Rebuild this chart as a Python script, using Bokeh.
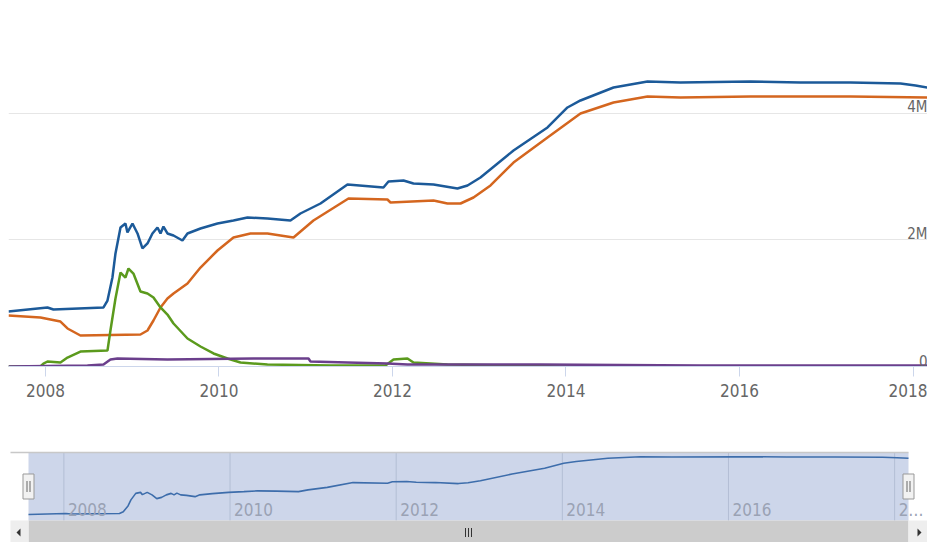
from bokeh.plotting import figure
from bokeh.layouts import column
from bokeh.models import Range1d, FixedTicker, Grid
from bokeh.core.properties import value
from bokeh.embed import file_html
from bokeh.resources import INLINE

# ---------------- data (values in millions, "M") ----------------
assets_t = [2007.574, 2008.023, 2008.092, 2008.669, 2008.715, 2008.772, 2008.807, 2008.865,
            2008.922, 2008.945, 2009.003, 2009.061, 2009.118, 2009.176, 2009.233, 2009.291,
            2009.326, 2009.360, 2009.406, 2009.476, 2009.579, 2009.637, 2009.787, 2009.983,
            2010.167, 2010.329, 2010.559, 2010.824, 2010.939, 2011.170, 2011.481, 2011.896,
            2011.954, 2012.127, 2012.242, 2012.473, 2012.749, 2012.865, 2013.014, 2013.395,
            2013.787, 2014.017, 2014.167, 2014.548, 2014.940, 2015.320, 2016.127, 2016.703,
            2017.280, 2017.856, 2018.029, 2018.167]
assets_v = [0.870, 0.933, 0.901, 0.933, 1.043, 1.407, 1.787, 2.198,
            2.261, 2.119, 2.261, 2.103, 1.866, 1.945, 2.103, 2.198,
            2.103, 2.213, 2.103, 2.071, 1.992, 2.103, 2.182, 2.261,
            2.308, 2.356, 2.340, 2.308, 2.419, 2.577, 2.877, 2.830,
            2.925, 2.941, 2.893, 2.877, 2.814, 2.862, 2.988, 3.415,
            3.779, 4.095, 4.206, 4.411, 4.506, 4.490, 4.506, 4.490,
            4.490, 4.474, 4.443, 4.411]

securities_t = [2007.574, 2007.942, 2008.173, 2008.254, 2008.403, 2009.095, 2009.176, 2009.245,
                2009.326, 2009.406, 2009.476, 2009.637, 2009.787, 2009.983, 2010.167, 2010.363,
                2010.559, 2010.859, 2011.089, 2011.493, 2011.942, 2011.977, 2012.473, 2012.634,
                2012.784, 2012.934, 2013.130, 2013.395, 2013.787, 2014.167, 2014.548, 2014.940,
                2015.320, 2016.127, 2017.280, 2018.167]
securities_v = [0.806, 0.775, 0.711, 0.601, 0.490, 0.506, 0.569, 0.727,
                0.933, 1.075, 1.154, 1.312, 1.565, 1.834, 2.040, 2.103,
                2.103, 2.040, 2.308, 2.656, 2.640, 2.593, 2.625, 2.577,
                2.577, 2.672, 2.862, 3.225, 3.621, 4.000, 4.174, 4.269,
                4.253, 4.269, 4.269, 4.253]

lending_t = [2007.574, 2007.942, 2007.977, 2008.023, 2008.173, 2008.254, 2008.403, 2008.715,
             2008.749, 2008.807, 2008.865, 2008.922, 2008.957, 2009.014, 2009.095, 2009.176,
             2009.245, 2009.326, 2009.406, 2009.476, 2009.637, 2009.787, 2009.937, 2010.098,
             2010.248, 2010.559, 2011.285, 2011.919, 2012.012, 2012.173, 2012.242, 2012.634,
             2013.395, 2013.937, 2018.167]
lending_v = [0.000, 0.000, 0.047, 0.079, 0.063, 0.142, 0.237, 0.253,
             0.569, 1.075, 1.486, 1.407, 1.549, 1.470, 1.186, 1.154,
             1.091, 0.933, 0.822, 0.680, 0.443, 0.316, 0.206, 0.126,
             0.063, 0.032, 0.016, 0.016, 0.111, 0.126, 0.063, 0.032,
             0.016, 0.000, 0.000]

other_t = [2007.574, 2008.484, 2008.669, 2008.749, 2008.830, 2009.406, 2010.398, 2011.032,
           2011.055, 2011.481, 2011.942, 2012.173, 2013.706, 2015.550, 2018.167]
other_v = [0.000, 0.016, 0.032, 0.111, 0.126, 0.111, 0.126, 0.126,
           0.079, 0.063, 0.047, 0.032, 0.032, 0.016, 0.016]

year_ticks = [2008, 2010, 2012, 2014, 2016, 2018]
year_labels = ["2008", "2010", "2012", "2014", "2016", "2018"]
nav_tick_labels = ["2008", "2010", "2012", "2014", "2016", "2…"]
y_ticks = [0, 2, 4]
y_labels = ["0", "2M", "4M"]

# ---------------- styling ----------------
FONT = "'Liberation Sans Narrow', 'Arial Narrow', 'DejaVu Sans Condensed', sans-serif"
C_BLUE, C_ORANGE, C_GREEN, C_PURPLE = "#1c5a99", "#d4661f", "#5b9a1d", "#6b3f8c"

X0, X1 = min(assets_t), max(assets_t)
W = 927

# ---------------- main chart ----------------
main = figure(width=W, height=440, x_range=Range1d(X0, X1), y_range=Range1d(0, 5.154),
              output_backend="svg", toolbar_location=None, y_axis_location=None,
              min_border_left=8, min_border_right=0, min_border_top=40, min_border_bottom=74)
main.outline_line_color = None
main.background_fill_color = "white"
main.border_fill_color = "white"
for g in main.grid:
    g.visible = False
main.add_layout(Grid(dimension=1, ticker=FixedTicker(ticks=y_ticks),
                     grid_line_color="#e6e6e6", grid_line_width=1))

ax = main.xaxis[0]
ax.ticker = FixedTicker(ticks=year_ticks)
ax.major_label_overrides = dict(zip(year_ticks, year_labels))
ax.axis_line_color = "#ccd6eb"
ax.major_tick_line_color = "#ccd6eb"
ax.major_tick_out = 10
ax.major_tick_in = 0
ax.minor_tick_line_color = None
ax.major_label_standoff = 7
ax.major_label_text_font = FONT
ax.major_label_text_font_size = "17px"
ax.major_label_text_color = "#666666"

main.line(assets_t, assets_v, line_color=C_BLUE, line_width=2.5)
main.line(securities_t, securities_v, line_color=C_ORANGE, line_width=2.5)
main.line(lending_t, lending_v, line_color=C_GREEN, line_width=2.5)
main.line(other_t, other_v, line_color=C_PURPLE, line_width=2.5)

main.text(x=[X1] * len(y_ticks), y=y_ticks, text=y_labels, text_align="right",
          text_baseline="alphabetic", y_offset=-6, text_font=value(FONT),
          text_font_size="15px", text_color="#666666")

# ---------------- navigator + scrollbar ----------------
NH = 102
FL = 8                  # frame left (kept aligned with the main chart frame)
NL, NR = 28, 908        # navigator plot area, px from canvas left
NT, NB = 12, 80         # navigator plot area, px from canvas top
NY0, NY1 = 0.49, 4.77
kx = (NR - NL) / (X1 - X0)
ky = (NB - NT) / (NY1 - NY0)


def px_x(px):
    return X0 + (px - NL) / kx


def px_y(py):
    return NY0 + (NB - py) / ky


nav = figure(width=W, height=NH,
             x_range=Range1d(px_x(FL), px_x(W)), y_range=Range1d(px_y(NH), px_y(0)),
             output_backend="svg", toolbar_location=None,
             x_axis_location=None, y_axis_location=None,
             min_border_left=FL, min_border_right=0, min_border_top=0, min_border_bottom=0)
nav.outline_line_color = None
nav.background_fill_color = "white"
nav.border_fill_color = "white"
for g in nav.grid:
    g.visible = False

# mask over the selected range
nav.quad(left=[X0], right=[X1], bottom=[NY0], top=[NY1], fill_color="#cdd6ea", line_color=None)
# grid lines
nav.segment(x0=year_ticks, y0=[NY0] * len(year_ticks), x1=year_ticks, y1=[NY1] * len(year_ticks),
            line_color="#b3bed4", line_width=1)
# series
nav.line(assets_t, assets_v, line_color="#3d6dab", line_width=1.6)
# top outline
nav.segment(x0=[px_x(10)], y0=[NY1], x1=[X1], y1=[NY1], line_color="#c8c8c8", line_width=1.5)
# labels
nav.text(x=year_ticks, y=[NY0] * len(year_ticks), text=nav_tick_labels, x_offset=4, y_offset=-11,
         text_baseline="alphabetic", text_align="left", text_font=value(FONT),
         text_font_size="17px", text_color="#9aa2b4")

# scrollbar
nav.quad(left=[X0], right=[X1], bottom=[px_y(NH)], top=[NY0], fill_color="#cccccc", line_color=None)
nav.quad(left=[px_x(10), X1], right=[X0, px_x(W)], bottom=[px_y(NH)] * 2, top=[NY0] * 2,
         fill_color="#eeeeee", line_color=None)
ay = 92
nav.patches(xs=[[px_x(16), px_x(20), px_x(20)], [px_x(921), px_x(917), px_x(917)]],
            ys=[[px_y(ay), px_y(ay - 4), px_y(ay + 4)], [px_y(ay), px_y(ay - 4), px_y(ay + 4)]],
            fill_color="#333333", line_color=None)
gx = (NL + NR) / 2
nav.rect(x=[px_x(gx - 3), px_x(gx), px_x(gx + 3)], y=[px_y(92)] * 3, width=1, height=9,
         width_units="screen", height_units="screen", fill_color="#333333", line_color=None)

# handles
hy = (NY0 + NY1) / 2
nav.rect(x=[X0, X1], y=[hy, hy], width=11, height=25, width_units="screen", height_units="screen",
         fill_color="#f2f2f2", line_color="#999999", line_width=1)
nav.rect(x=[px_x(NL - 1.5), px_x(NL + 1.5), px_x(NR - 1.5), px_x(NR + 1.5)], y=[hy] * 4,
         width=1, height=11, width_units="screen", height_units="screen",
         fill_color="#666666", line_color=None)

layout = column(main, nav, spacing=0)
open("out.html", "w").write(file_html(layout, INLINE))
